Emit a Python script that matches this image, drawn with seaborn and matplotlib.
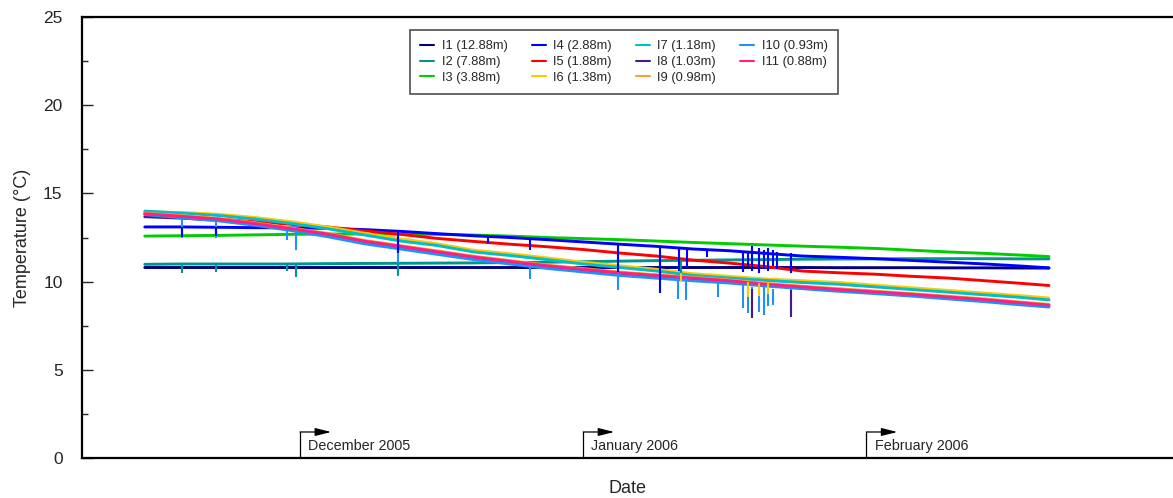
import pandas as pd
import matplotlib
matplotlib.use("Agg")
import matplotlib.pyplot as plt
import matplotlib.dates as mdates
import seaborn as sns

# sampling dates (every 4 days)
dates = ["2005-11-14", "2005-11-18", "2005-11-22", "2005-11-26", "2005-11-30",
         "2005-12-04", "2005-12-08", "2005-12-12", "2005-12-16", "2005-12-20",
         "2005-12-24", "2005-12-28", "2006-01-01", "2006-01-05", "2006-01-09",
         "2006-01-13", "2006-01-17", "2006-01-21", "2006-01-25", "2006-01-29",
         "2006-02-02", "2006-02-06", "2006-02-10", "2006-02-14", "2006-02-18",
         "2006-02-21"]

sensors = ["I1 (12.88m)", "I2 (7.88m)", "I3 (3.88m)", "I4 (2.88m)", "I5 (1.88m)",
           "I6 (1.38m)", "I7 (1.18m)", "I8 (1.03m)", "I9 (0.98m)", "I10 (0.93m)",
           "I11 (0.88m)"]

i1 = [10.8, 10.8, 10.8, 10.8, 10.8, 10.8, 10.8, 10.8, 10.8, 10.8, 10.8, 10.8, 10.8,
      10.8, 10.8, 10.8, 10.8, 10.8, 10.8, 10.79, 10.79, 10.79, 10.78, 10.78, 10.77, 10.77]
i2 = [10.98, 11.0, 11.0, 11.0, 11.0, 11.02, 11.03, 11.04, 11.05, 11.06, 11.08, 11.1, 11.13,
      11.16, 11.19, 11.21, 11.23, 11.25, 11.27, 11.28, 11.29, 11.3, 11.3, 11.3, 11.29, 11.29]
i3 = [12.58, 12.6, 12.62, 12.65, 12.68, 12.7, 12.7, 12.7, 12.68, 12.64, 12.58, 12.5, 12.44,
      12.38, 12.3, 12.22, 12.15, 12.08, 12.01, 11.95, 11.88, 11.78, 11.68, 11.6, 11.5, 11.42]
i4 = [13.1, 13.1, 13.08, 13.06, 13.05, 13.02, 12.95, 12.85, 12.72, 12.6, 12.5, 12.38, 12.25,
      12.12, 12.0, 11.85, 11.75, 11.6, 11.45, 11.38, 11.3, 11.2, 11.1, 11.0, 10.88, 10.78]
i5 = [13.85, 13.7, 13.55, 13.4, 13.25, 13.1, 12.88, 12.68, 12.45, 12.28, 12.12, 11.98, 11.82,
      11.62, 11.45, 11.22, 11.05, 10.85, 10.6, 10.5, 10.42, 10.3, 10.2, 10.05, 9.9, 9.78]
i6 = [13.95, 13.92, 13.82, 13.64, 13.4, 13.1, 12.75, 12.42, 12.15, 11.78, 11.58, 11.35, 11.1,
      10.9, 10.7, 10.45, 10.3, 10.15, 10.05, 9.95, 9.8, 9.65, 9.5, 9.35, 9.2, 9.07]
i7 = [14.0, 13.88, 13.75, 13.55, 13.3, 13.0, 12.65, 12.3, 12.05, 11.68, 11.48, 11.25, 11.0,
      10.8, 10.6, 10.35, 10.2, 10.07, 9.95, 9.85, 9.7, 9.55, 9.4, 9.25, 9.1, 8.96]
i8 = [13.68, 13.6, 13.48, 13.25, 12.95, 12.63, 12.25, 11.95, 11.64, 11.35, 11.1, 10.85, 10.65,
      10.45, 10.3, 10.14, 9.99, 9.8, 9.64, 9.5, 9.37, 9.22, 9.07, 8.92, 8.74, 8.62]
i9 = [13.88, 13.74, 13.58, 13.34, 13.04, 12.74, 12.34, 12.04, 11.74, 11.44, 11.19, 10.94, 10.74,
      10.54, 10.39, 10.24, 10.09, 9.9, 9.74, 9.6, 9.46, 9.32, 9.17, 9.02, 8.84, 8.71]
i10 = [13.8, 13.62, 13.45, 13.2, 12.9, 12.55, 12.15, 11.85, 11.55, 11.25, 11.0, 10.75, 10.55,
       10.35, 10.2, 10.05, 9.92, 9.75, 9.6, 9.45, 9.32, 9.18, 9.02, 8.86, 8.68, 8.56]
i11 = [13.85, 13.7, 13.55, 13.3, 13.0, 12.7, 12.3, 12.0, 11.7, 11.4, 11.15, 10.9, 10.7,
       10.5, 10.35, 10.2, 10.05, 9.85, 9.7, 9.55, 9.42, 9.28, 9.13, 8.98, 8.8, 8.67]

colors = ["#000080", "#00968c", "#00cc00", "#0000ff", "#ff0000", "#ffc800",
          "#00bfc8", "#4b1a8a", "#ffa030", "#1e90ff", "#ff1f7f"]

# short sensor drop-outs (spikes): date, sensor index, top, bottom
spike_dates = ["2005-11-18 03:00", "2005-11-18 03:00", "2005-11-18 03:00",
               "2005-11-21 19:00", "2005-11-21 19:00", "2005-11-21 19:00",
               "2005-11-29 14:00", "2005-11-29 14:00", "2005-11-30 14:00", "2005-11-30 14:00",
               "2005-12-11 17:00", "2005-12-11 17:00", "2005-12-11 17:00",
               "2005-12-21 14:00", "2005-12-26 05:00", "2005-12-26 05:00",
               "2006-01-04 19:00", "2006-01-04 19:00", "2006-01-09 10:00",
               "2006-01-11 10:00", "2006-01-11 12:00", "2006-01-11 18:00", "2006-01-11 18:00",
               "2006-01-12 06:00", "2006-01-12 10:00", "2006-01-14 14:00", "2006-01-15 19:00",
               "2006-01-18 12:00", "2006-01-19 00:00", "2006-01-19 12:00", "2006-01-20 06:00",
               "2006-01-20 18:00", "2006-01-21 06:00", "2006-01-21 18:00", "2006-01-22 06:00",
               "2006-01-18 12:00", "2006-01-19 00:00", "2006-01-19 12:00", "2006-01-20 06:00",
               "2006-01-20 18:00", "2006-01-21 06:00", "2006-01-21 18:00",
               "2006-01-19 00:00", "2006-01-20 06:00", "2006-01-21 06:00",
               "2006-01-19 12:00",
               "2006-01-23 17:00", "2006-01-23 17:00", "2006-01-23 17:00"]
spike_sensor = [9, 3, 1,
                9, 3, 1,
                9, 1, 9, 1,
                9, 1, 3,
                3, 9, 3,
                3, 9, 3,
                9, 3, 1, 5,
                9, 3, 3, 9,
                3, 3, 3, 3, 3, 3, 3, 3,
                9, 9, 9, 9, 9, 9, 9,
                5, 5, 5,
                7,
                3, 9, 7]
spike_top = [13.55, 13.1, 11.0,
             13.4, 13.08, 11.0,
             12.95, 11.0, 12.9, 11.0,
             11.9, 11.04, 12.87,
             12.58, 10.9, 12.45,
             12.1, 10.35, 11.98,
             10.25, 11.95, 11.2, 10.5,
             10.2, 11.9, 11.8, 10.0,
             11.75, 11.7, 12.0, 11.9, 11.8, 11.9, 11.8, 11.7,
             9.8, 9.8, 9.7, 9.75, 9.7, 9.65, 9.6,
             10.0, 9.95, 9.9,
             9.6,
             11.6, 9.6, 9.55]
spike_low = [12.5, 12.55, 10.5,
             12.5, 12.6, 10.55,
             12.36, 10.6, 11.8, 10.25,
             10.3, 10.35, 11.6,
             12.2, 10.15, 11.8,
             10.55, 9.5, 9.35,
             9.0, 10.6, 10.3, 10.05,
             8.95, 10.8, 11.4, 9.1,
             10.55, 10.9, 10.6, 10.5, 10.7, 10.6, 10.9, 10.7,
             8.5, 8.2, 8.0, 8.3, 8.1, 8.6, 8.7,
             9.1, 9.2, 9.3,
             7.95,
             10.5, 8.1, 8.0]

months = ["2005-12-01", "2006-01-01", "2006-02-01"]
month_labels = ["December 2005", "January 2006", "February 2006"]

series = [i1, i2, i3, i4, i5, i6, i7, i8, i9, i10, i11]
rows = []
for name, vals in zip(sensors, series):
    for d, v in zip(dates, vals):
        rows.append({"date": pd.Timestamp(d), "sensor": name, "temp": v})
df = pd.DataFrame(rows)

sns.set_style("white")
plt.rcParams["font.family"] = ["Liberation Sans", "DejaVu Sans"]

fig = plt.figure(figsize=(11.73, 4.98), dpi=100)
ax = fig.add_axes([0.0699, 0.0803, 0.9301, 0.8855])

palette = dict(zip(sensors, colors))
sns.lineplot(data=df, x="date", y="temp", hue="sensor", hue_order=sensors,
             palette=palette, estimator=None, linewidth=2.1, ax=ax, legend=True)

for d, s, top, low in zip(spike_dates, spike_sensor, spike_top, spike_low):
    ax.vlines(pd.Timestamp(d), low, top, colors=colors[s], linewidth=1.5, zorder=2)

ax.set_xlim(pd.Timestamp("2005-11-07 03:00"), pd.Timestamp("2006-03-06 14:00"))
ax.set_ylim(0, 25)
ax.set_yticks([0, 5, 10, 15, 20, 25])
ax.set_yticks([2.5, 7.5, 12.5, 17.5, 22.5], minor=True)
ax.set_xticks([])
ax.tick_params(axis="y", which="major", direction="in", length=8, width=1, pad=14,
               labelsize=12.5, left=True)
ax.tick_params(axis="y", which="minor", direction="in", length=4.5, width=1, left=True)
ax.set_ylabel("Temperature (°C)", fontsize=13, labelpad=9)
ax.set_xlabel("Date", fontsize=13, labelpad=16)

for side in ["left", "bottom", "top"]:
    ax.spines[side].set_linewidth(1.6)
    ax.spines[side].set_color("black")
ax.spines["right"].set_visible(False)

# month markers along the bottom
xtr = ax.get_xaxis_transform()
for m, lab in zip(months, month_labels):
    t = mdates.date2num(pd.Timestamp(m))
    ax.plot([t, t], [0, 0.059], transform=xtr, color="black", lw=0.9, clip_on=False)
    ax.annotate("", xy=(t + 3.4, 0.059), xycoords=xtr,
                xytext=(t, 0.059), textcoords=xtr,
                arrowprops=dict(arrowstyle="-|>,head_length=0.8,head_width=0.2",
                                color="black", lw=0.9, shrinkA=0, shrinkB=0,
                                mutation_scale=12))
    ax.text(t + 0.9, 0.027, lab, transform=xtr, fontsize=10.4,
            va="center", ha="left")

old = ax.get_legend()
handles = old.legend_handles
labels = [t.get_text() for t in old.get_texts()]
old.remove()
for h in handles:
    h.set_linewidth(1.5)
leg = ax.legend(handles, labels, ncol=4, loc="upper left",
                bbox_to_anchor=(0.3006, 0.8705, 0.3923, 0.1), mode="expand",
                borderaxespad=0, fontsize=9.3, handlelength=1.1, handletextpad=0.6,
                columnspacing=1.4, labelspacing=0.28, borderpad=0.8,
                frameon=True, fancybox=False)
leg.get_frame().set_edgecolor("#222222")
leg.get_frame().set_linewidth(1.2)

fig.savefig("out.png", dpi=100)
